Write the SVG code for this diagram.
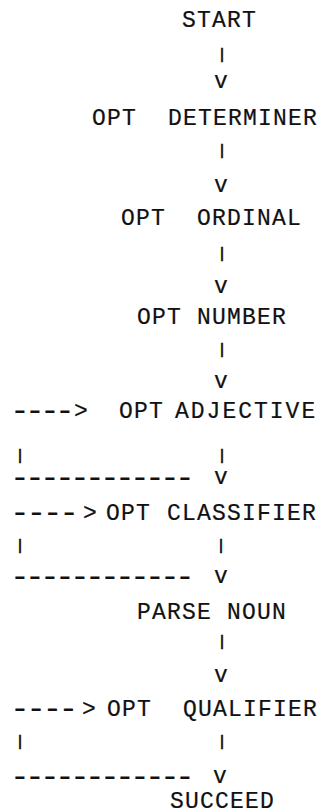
<svg xmlns="http://www.w3.org/2000/svg" width="322" height="812" viewBox="0 0 322 812">
<style>
text{font-family:"Liberation Mono","DejaVu Sans Mono",monospace;font-size:23px;fill:#111;stroke:#111;stroke-width:0.2px;letter-spacing:1.2px}
.bar{font-size:15px;dominant-baseline:central;text-anchor:middle;stroke-width:0.7px;letter-spacing:0}
.v{text-anchor:middle;letter-spacing:0}
.dash{font-size:33px;letter-spacing:-4.8px;stroke-width:0}
</style>
<rect width="322" height="812" fill="#fff"/>
<g id="n-start"><text x="182" y="27">START</text></g>
<g id="n-determiner"><text x="92" y="125">OPT</text><text x="168" y="125">DETERMINER</text></g>
<g id="n-ordinal"><text x="121" y="225">OPT</text><text x="197" y="225">ORDINAL</text></g>
<g id="n-number"><text x="137" y="324">OPT</text><text x="197" y="324">NUMBER</text></g>
<g id="n-adjective"><text x="119" y="418">OPT</text><text x="175" y="418" style="letter-spacing:2px">ADJECTIVE</text></g>
<g id="n-classifier"><text x="106" y="520">OPT</text><text x="167" y="520">CLASSIFIER</text></g>
<g id="n-noun"><text x="137" y="619">PARSE</text><text x="227" y="619">NOUN</text></g>
<g id="n-qualifier"><text x="107" y="716">OPT</text><text x="183" y="716">QUALIFIER</text></g>
<g id="n-succeed"><text x="170" y="808">SUCCEED</text></g>
<g id="connectors">
<text class="bar" x="222" y="55">|</text>
<text class="v" x="221" y="88">v</text>
<text class="bar" x="222" y="151">|</text>
<text class="v" x="221" y="192">v</text>
<text class="bar" x="222" y="254">|</text>
<text class="v" x="221" y="293">v</text>
<text class="bar" x="222" y="350">|</text>
<text class="v" x="221" y="388">v</text>
<text class="dash" x="10" y="421">----</text><text x="74" y="418">&gt;</text>
<text class="bar" x="20" y="456">|</text>
<text class="bar" x="222" y="456">|</text>
<text class="dash" x="10" y="488">------------</text>
<text class="v" x="221" y="484">v</text>
<text class="dash" x="10" y="523" style="letter-spacing:-3.4px">----</text><text x="83" y="520">&gt;</text>
<text class="bar" x="20" y="546">|</text>
<text class="bar" x="221" y="546">|</text>
<text class="dash" x="10" y="587">------------</text>
<text class="v" x="221" y="583">v</text>
<text class="bar" x="222" y="642">|</text>
<text class="v" x="221" y="682">v</text>
<text class="dash" x="10" y="719" style="letter-spacing:-3.6px">----</text><text x="82" y="716">&gt;</text>
<text class="bar" x="20" y="742">|</text>
<text class="bar" x="222" y="742">|</text>
<text class="dash" x="10" y="787">------------</text>
<text class="v" x="220" y="783">v</text>
</g>
</svg>
